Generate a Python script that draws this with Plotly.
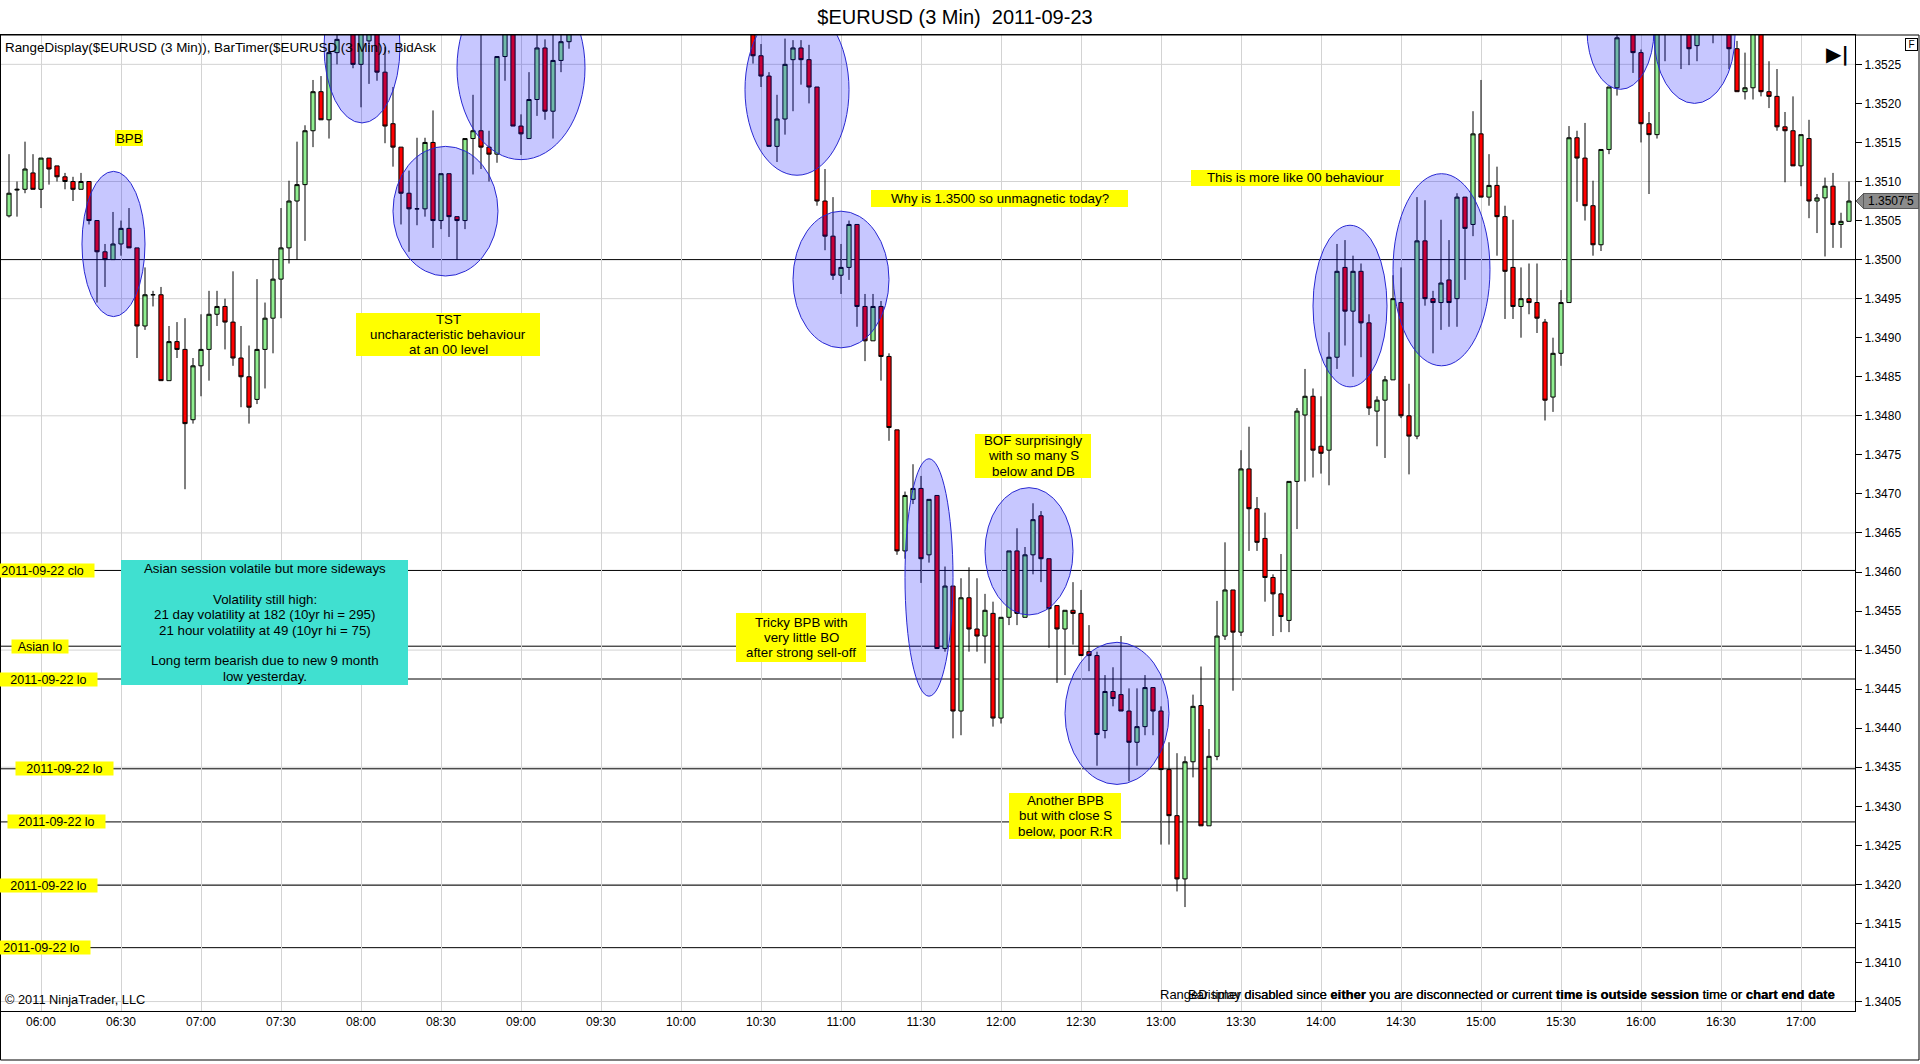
import plotly.graph_objects as go
import pandas as pd

# ---------------- data (3-min bars, $EURUSD, 2011-09-23) ----------------
bar_start = "2011-09-23 05:48"

open_ = [
    1.35056, 1.35089, 1.35090, 1.35111, 1.35090, 1.35130, 1.35120, 1.35106, 1.35100, 1.35090,
    1.35100, 1.35050, 1.35010, 1.35000, 1.35020, 1.35040, 1.35015, 1.34915, 1.34955, 1.34955,
    1.34845, 1.34895, 1.34885, 1.34795, 1.34864, 1.34885, 1.34930, 1.34940, 1.34920, 1.34874,
    1.34850, 1.34821, 1.34885, 1.34925, 1.34975, 1.35015, 1.35075, 1.35096, 1.35165, 1.35215,
    1.35179, 1.35265, 1.35295, 1.35310, 1.35250, 1.35280, 1.35300, 1.35240, 1.35174, 1.35144,
    1.35085, 1.35065, 1.35065, 1.35150, 1.35050, 1.35110, 1.35055, 1.35050, 1.35155, 1.35165,
    1.35144, 1.35135, 1.35260, 1.35300, 1.35171, 1.35155, 1.35205, 1.35271, 1.35190, 1.35255,
    1.35279, 1.35300, 1.35320, 1.35340, 1.35330, 1.35360, 1.35350, 1.35340, 1.35380, 1.35370,
    1.35355, 1.35365, 1.35385, 1.35380, 1.35360, 1.35345, 1.35350, 1.35365, 1.35350, 1.35330,
    1.35340, 1.35325, 1.35315, 1.35305, 1.35261, 1.35235, 1.35145, 1.35180, 1.35256, 1.35271,
    1.35256, 1.35221, 1.35075, 1.35030, 1.34980, 1.34990, 1.35045, 1.34940, 1.34896, 1.34940,
    1.34876, 1.34782, 1.34627, 1.34693, 1.34707, 1.34622, 1.34698, 1.34502, 1.34582, 1.34422,
    1.34567, 1.34527, 1.34518, 1.34547, 1.34413, 1.34542, 1.34627, 1.34542, 1.34622, 1.34672,
    1.34617, 1.34557, 1.34527, 1.34551, 1.34547, 1.34498, 1.34493, 1.34397, 1.34447, 1.34443,
    1.34422, 1.34382, 1.34402, 1.34452, 1.34422, 1.34347, 1.34288, 1.34207, 1.34357, 1.34429,
    1.34275, 1.34364, 1.34518, 1.34577, 1.34523, 1.34732, 1.34681, 1.34643, 1.34593, 1.34572,
    1.34538, 1.34716, 1.34801, 1.34825, 1.34761, 1.34756, 1.34875, 1.34990, 1.34934, 1.34985,
    1.34919, 1.34806, 1.34820, 1.34846, 1.34945, 1.34800, 1.34774, 1.35024, 1.34950, 1.34945,
    1.34974, 1.34950, 1.35080, 1.35045, 1.35161, 1.35080, 1.35095, 1.35055, 1.34990, 1.34940,
    1.34950, 1.34945, 1.34920, 1.34824, 1.34880, 1.34945, 1.35156, 1.35130, 1.35069, 1.35019,
    1.35141, 1.35220, 1.35290, 1.35300, 1.35265, 1.35174, 1.35160, 1.35295, 1.35300, 1.35310,
    1.35300, 1.35274, 1.35300, 1.35300, 1.35295, 1.35300, 1.35270, 1.35215, 1.35220, 1.35290,
    1.35215, 1.35209, 1.35170, 1.35165, 1.35120, 1.35155, 1.35075, 1.35079, 1.35094, 1.35045,
    1.35049,
]
high = [
    1.35135, 1.35100, 1.35151, 1.35135, 1.35130, 1.35130, 1.35120, 1.35111, 1.35106, 1.35111,
    1.35100, 1.35050, 1.35020, 1.35061, 1.35050, 1.35066, 1.35015, 1.34990, 1.34960, 1.34965,
    1.34915, 1.34920, 1.34925, 1.34874, 1.34930, 1.34960, 1.34960, 1.34950, 1.34985, 1.34915,
    1.34890, 1.34975, 1.34945, 1.35000, 1.35066, 1.35101, 1.35151, 1.35172, 1.35230, 1.35235,
    1.35276, 1.35295, 1.35325, 1.35320, 1.35310, 1.35320, 1.35310, 1.35272, 1.35221, 1.35144,
    1.35114, 1.35156, 1.35156, 1.35191, 1.35110, 1.35110, 1.35055, 1.35155, 1.35211, 1.35295,
    1.35165, 1.35260, 1.35310, 1.35310, 1.35186, 1.35240, 1.35295, 1.35282, 1.35292, 1.35295,
    1.35310, 1.35330, 1.35350, 1.35360, 1.35370, 1.35380, 1.35365, 1.35390, 1.35400, 1.35385,
    1.35375, 1.35395, 1.35405, 1.35390, 1.35370, 1.35360, 1.35375, 1.35380, 1.35355, 1.35345,
    1.35350, 1.35335, 1.35325, 1.35310, 1.35276, 1.35240, 1.35211, 1.35283, 1.35281, 1.35281,
    1.35275, 1.35221, 1.35116, 1.35080, 1.35020, 1.35050, 1.35045, 1.34956, 1.34956, 1.34947,
    1.34880, 1.34782, 1.34703, 1.34738, 1.34723, 1.34693, 1.34698, 1.34607, 1.34582, 1.34592,
    1.34606, 1.34592, 1.34572, 1.34562, 1.34542, 1.34627, 1.34656, 1.34632, 1.34688, 1.34678,
    1.34617, 1.34557, 1.34551, 1.34587, 1.34577, 1.34532, 1.34498, 1.34468, 1.34478, 1.34518,
    1.34451, 1.34451, 1.34468, 1.34452, 1.34428, 1.34382, 1.34368, 1.34364, 1.34443, 1.34479,
    1.34399, 1.34563, 1.34638, 1.34577, 1.34756, 1.34786, 1.34696, 1.34676, 1.34597, 1.34623,
    1.34716, 1.34810, 1.34860, 1.34835, 1.34825, 1.34907, 1.35020, 1.35025, 1.35005, 1.34995,
    1.34930, 1.34825, 1.34851, 1.34980, 1.34990, 1.34841, 1.35080, 1.35076, 1.34960, 1.35051,
    1.35025, 1.35085, 1.35080, 1.35190, 1.35230, 1.35135, 1.35119, 1.35069, 1.35051, 1.34990,
    1.34995, 1.34995, 1.34924, 1.34900, 1.34961, 1.35171, 1.35165, 1.35175, 1.35101, 1.35141,
    1.35221, 1.35300, 1.35320, 1.35310, 1.35269, 1.35189, 1.35305, 1.35320, 1.35330, 1.35325,
    1.35310, 1.35315, 1.35330, 1.35320, 1.35320, 1.35310, 1.35280, 1.35265, 1.35300, 1.35300,
    1.35254, 1.35244, 1.35189, 1.35209, 1.35160, 1.35179, 1.35084, 1.35105, 1.35111, 1.35060,
    1.35100,
]
low = [
    1.35054, 1.35055, 1.35085, 1.35090, 1.35066, 1.35096, 1.35100, 1.35090, 1.35075, 1.35090,
    1.35045, 1.34945, 1.34965, 1.35000, 1.35005, 1.35015, 1.34874, 1.34910, 1.34940, 1.34845,
    1.34845, 1.34874, 1.34706, 1.34790, 1.34825, 1.34845, 1.34915, 1.34885, 1.34864, 1.34811,
    1.34790, 1.34815, 1.34835, 1.34880, 1.34925, 1.34995, 1.35000, 1.35024, 1.35144, 1.35179,
    1.35155, 1.35250, 1.35290, 1.35245, 1.35195, 1.35225, 1.35229, 1.35149, 1.35119, 1.35045,
    1.35010, 1.35044, 1.35055, 1.35015, 1.35039, 1.35029, 1.35000, 1.35039, 1.35109, 1.35116,
    1.35100, 1.35124, 1.35229, 1.35171, 1.35134, 1.35155, 1.35184, 1.35179, 1.35155, 1.35240,
    1.35270, 1.35290, 1.35310, 1.35320, 1.35325, 1.35340, 1.35330, 1.35335, 1.35360, 1.35345,
    1.35340, 1.35360, 1.35370, 1.35355, 1.35340, 1.35330, 1.35340, 1.35345, 1.35325, 1.35315,
    1.35320, 1.35305, 1.35295, 1.35251, 1.35221, 1.35145, 1.35125, 1.35160, 1.35190, 1.35224,
    1.35200, 1.35069, 1.35012, 1.34974, 1.34956, 1.34974, 1.34914, 1.34870, 1.34896, 1.34845,
    1.34768, 1.34622, 1.34617, 1.34687, 1.34586, 1.34612, 1.34502, 1.34498, 1.34387, 1.34391,
    1.34498, 1.34498, 1.34483, 1.34402, 1.34406, 1.34532, 1.34532, 1.34542, 1.34597, 1.34587,
    1.34503, 1.34458, 1.34468, 1.34507, 1.34493, 1.34473, 1.34352, 1.34387, 1.34428, 1.34422,
    1.34332, 1.34352, 1.34391, 1.34391, 1.34251, 1.34251, 1.34191, 1.34171, 1.34337, 1.34275,
    1.34275, 1.34359, 1.34513, 1.34448, 1.34518, 1.34627, 1.34627, 1.34562, 1.34518, 1.34523,
    1.34523, 1.34655, 1.34716, 1.34721, 1.34726, 1.34711, 1.34860, 1.34890, 1.34850, 1.34875,
    1.34801, 1.34761, 1.34746, 1.34846, 1.34797, 1.34725, 1.34770, 1.34941, 1.34880, 1.34910,
    1.34914, 1.34914, 1.34974, 1.35030, 1.35080, 1.35069, 1.35005, 1.34924, 1.34924, 1.34900,
    1.34930, 1.34906, 1.34794, 1.34805, 1.34864, 1.34945, 1.35074, 1.35050, 1.35005, 1.35011,
    1.35135, 1.35210, 1.35290, 1.35239, 1.35150, 1.35084, 1.35155, 1.35254, 1.35292, 1.35244,
    1.35249, 1.35254, 1.35292, 1.35277, 1.35290, 1.35244, 1.35215, 1.35205, 1.35205, 1.35209,
    1.35194, 1.35165, 1.35099, 1.35120, 1.35094, 1.35053, 1.35034, 1.35004, 1.35015, 1.35015,
    1.35049,
]
close = [
    1.35085, 1.35090, 1.35116, 1.35090, 1.35130, 1.35116, 1.35106, 1.35100, 1.35090, 1.35100,
    1.35050, 1.35010, 1.35000, 1.35020, 1.35040, 1.35015, 1.34915, 1.34955, 1.34955, 1.34845,
    1.34895, 1.34885, 1.34790, 1.34864, 1.34885, 1.34930, 1.34940, 1.34920, 1.34874, 1.34850,
    1.34811, 1.34885, 1.34925, 1.34975, 1.35015, 1.35075, 1.35096, 1.35165, 1.35215, 1.35179,
    1.35265, 1.35282, 1.35310, 1.35250, 1.35300, 1.35300, 1.35240, 1.35171, 1.35144, 1.35085,
    1.35065, 1.35065, 1.35150, 1.35050, 1.35110, 1.35055, 1.35050, 1.35155, 1.35165, 1.35144,
    1.35135, 1.35260, 1.35300, 1.35171, 1.35161, 1.35205, 1.35271, 1.35190, 1.35255, 1.35279,
    1.35300, 1.35320, 1.35340, 1.35330, 1.35360, 1.35350, 1.35340, 1.35380, 1.35370, 1.35355,
    1.35365, 1.35385, 1.35380, 1.35360, 1.35345, 1.35350, 1.35365, 1.35350, 1.35330, 1.35340,
    1.35325, 1.35315, 1.35305, 1.35261, 1.35235, 1.35145, 1.35180, 1.35250, 1.35271, 1.35256,
    1.35221, 1.35075, 1.35030, 1.34980, 1.34990, 1.35045, 1.34940, 1.34896, 1.34940, 1.34876,
    1.34785, 1.34627, 1.34698, 1.34707, 1.34617, 1.34693, 1.34502, 1.34582, 1.34422, 1.34567,
    1.34527, 1.34518, 1.34551, 1.34413, 1.34542, 1.34627, 1.34547, 1.34622, 1.34667, 1.34617,
    1.34553, 1.34527, 1.34551, 1.34547, 1.34493, 1.34493, 1.34392, 1.34447, 1.34438, 1.34422,
    1.34382, 1.34402, 1.34452, 1.34422, 1.34347, 1.34288, 1.34207, 1.34357, 1.34428, 1.34275,
    1.34364, 1.34518, 1.34577, 1.34523, 1.34732, 1.34681, 1.34638, 1.34593, 1.34572, 1.34543,
    1.34716, 1.34806, 1.34825, 1.34756, 1.34752, 1.34875, 1.34985, 1.34934, 1.34985, 1.34919,
    1.34810, 1.34820, 1.34846, 1.34950, 1.34800, 1.34774, 1.35024, 1.34950, 1.34945, 1.34970,
    1.34945, 1.35080, 1.35040, 1.35161, 1.35080, 1.35095, 1.35055, 1.34985, 1.34940, 1.34950,
    1.34945, 1.34925, 1.34820, 1.34880, 1.34945, 1.35156, 1.35130, 1.35069, 1.35019, 1.35141,
    1.35221, 1.35284, 1.35310, 1.35265, 1.35174, 1.35160, 1.35295, 1.35305, 1.35310, 1.35300,
    1.35270, 1.35300, 1.35310, 1.35295, 1.35305, 1.35270, 1.35215, 1.35220, 1.35290, 1.35215,
    1.35209, 1.35170, 1.35165, 1.35120, 1.35160, 1.35075, 1.35079, 1.35094, 1.35045, 1.35049,
    1.35075,
]
assert len(open_) == len(high) == len(low) == len(close)

# horizontal reference levels and their labels
level_prices = [1.35000, 1.34602, 1.34505, 1.34463, 1.34348, 1.34280, 1.34199, 1.34119]
level_labels = [None, "2011-09-22 clo", "Asian lo", "2011-09-22 lo", "2011-09-22 lo",
                "2011-09-22 lo", "2011-09-22 lo", "2011-09-22 lo"]
# gray horizontal grid levels
grid_levels = [1.3405, 1.3420, 1.3435, 1.3450, 1.3465, 1.3480, 1.3495, 1.3510, 1.3525]

# highlighted areas (start time, end time, top price, bottom price)
ellipse_t0 = ["06:15:22", "07:46:08", "08:12:00", "08:36:00", "10:24:00", "10:42:00", "11:24:00",
              "11:54:00", "12:24:00", "13:57:00", "14:27:00", "15:39:45", "16:04:52"]
ellipse_t1 = ["06:39:00", "08:14:38", "08:51:22", "09:24:00", "11:03:00", "11:18:00", "11:42:00",
              "12:27:00", "13:03:00", "14:24:45", "15:03:22", "16:04:52", "16:35:15"]
ellipse_top = [1.35113, 1.35371, 1.35145, 1.35363, 1.35327, 1.35062, 1.34745,
               1.34708, 1.34510, 1.35044, 1.35110, 1.35370, 1.35374]
ellipse_bot = [1.34927, 1.35175, 1.34979, 1.35128, 1.35108, 1.34887, 1.34441,
               1.34545, 1.34328, 1.34837, 1.34864, 1.35218, 1.35200]

day = "2011-09-23 "
times = pd.date_range(bar_start, periods=len(close), freq="3min")

# ---------------- layout geometry (pixels) ----------------
W, H = 1920, 1064
PL, PR, PT, PB = 1, 1855, 35, 1011
FONT = "Liberation Sans, Arial, sans-serif"


def pxx(px):
    return (px - PL) / (PR - PL)


def pxy(py):
    return (PB - py) / (PB - PT)


fig = go.Figure()
fig.add_trace(go.Candlestick(
    x=times, open=open_, high=high, low=low, close=close,
    increasing=dict(line=dict(color="black", width=1), fillcolor="#90EE90"),
    decreasing=dict(line=dict(color="black", width=1), fillcolor="#FF0000"),
    whiskerwidth=0, hoverinfo="skip", showlegend=False,
))

shapes = []
annotations = []

# gray horizontal gridlines
for g in grid_levels:
    shapes.append(dict(type="line", xref="paper", yref="y", x0=0, x1=1, y0=g, y1=g,
                       line=dict(color="#D3D3D3", width=1), layer="below"))
# black reference lines
for p in level_prices:
    shapes.append(dict(type="line", xref="paper", yref="y", x0=0, x1=1, y0=p, y1=p,
                       line=dict(color="black", width=1), layer="below"))

# ellipses
for t0, t1, yt, yb in zip(ellipse_t0, ellipse_t1, ellipse_top, ellipse_bot):
    shapes.append(dict(type="circle", xref="x", yref="y", x0=day + t0, x1=day + t1,
                       y0=yb, y1=yt, fillcolor="rgba(0,0,255,0.22)",
                       line=dict(color="rgb(40,40,210)", width=1), layer="above"))


def add_box(x0, x1, y0, y1, color, lines, size=13.3, spacing=15.3):
    shapes.append(dict(type="rect", xref="paper", yref="paper",
                       x0=pxx(x0), x1=pxx(x1), y0=pxy(y1), y1=pxy(y0),
                       fillcolor=color, line=dict(width=0), layer="above"))
    cy = (y0 + y1) / 2
    n = len(lines)
    for i, t in enumerate(lines):
        if not t:
            continue
        yc = cy + (i - (n - 1) / 2) * spacing
        annotations.append(dict(text=t, xref="paper", yref="paper", x=pxx((x0 + x1) / 2),
                                y=pxy(yc), showarrow=False, xanchor="center", yanchor="middle",
                                font=dict(size=size, color="black", family=FONT)))


YEL = "#FFFF00"
add_box(115, 143, 130, 146, YEL, ["BPB"])
add_box(356, 540, 313, 356, YEL, ["TST", "uncharacteristic behaviour", "at an 00 level"])
add_box(871, 1128, 190, 207, YEL, ["Why is 1.3500 so unmagnetic today?"])
add_box(1191, 1400, 170, 186, YEL, ["This is more like 00 behaviour"])
add_box(975, 1091, 434, 478, YEL, ["BOF surprisingly", "with so many S", "below and DB"])
add_box(736, 866, 613, 662, YEL, ["Tricky BPB with", "very little BO", "after strong sell-off"])
add_box(1009, 1121, 793, 839, YEL, ["Another BPB", "but with close S", "below, poor R:R"])
add_box(121, 408, 560, 685, "#40E0D0",
        ["Asian session volatile but more sideways", "", "Volatility still high:",
         "21 day volatility at 182 (10yr hi = 295)", "21 hour volatility at 49 (10yr hi = 75)",
         "", "Long term bearish due to new 9 month", "low yesterday."])

# level labels at the left (center px, width px)
label_cx = [None, 42.5, 40, 48.5, 64.5, 56.5, 48.5, 41.5]
label_w = [None, 103, 56, 97, 97, 97, 97, 97]
for p, lab, cx, w in zip(level_prices, level_labels, label_cx, label_w):
    if lab is None:
        continue
    annotations.append(dict(text=lab, xref="paper", yref="y", x=pxx(cx), y=p,
                            showarrow=False, xanchor="center", yanchor="middle",
                            bgcolor=YEL, width=w, height=13, borderpad=0,
                            font=dict(size=12.5, color="black", family=FONT)))

# indicator text top-left
annotations.append(dict(text="RangeDisplay($EURUSD (3 Min)), BarTimer($EURUSD (3 Min)), BidAsk",
                        xref="paper", yref="paper", x=pxx(3), y=pxy(48), showarrow=False,
                        xanchor="left", yanchor="middle", font=dict(size=13.4, color="black")))
# copyright
annotations.append(dict(text="© 2011 NinjaTrader, LLC", xref="paper", yref="paper",
                        x=pxx(3), y=pxy(999), showarrow=False, xanchor="left",
                        yanchor="middle", font=dict(size=12.8, color="black")))
# overlapping disabled messages (right aligned, as in the reference)
msg_tail = (" disabled since <b>either</b> you are disconnected or current "
            "<b>time is outside session</b> time or <b>chart end date</b>")
for head in ["RangeDisplay", "Bar timer"]:
    annotations.append(dict(text=head + msg_tail, xref="paper", yref="paper",
                            x=pxx(1837), y=pxy(994), showarrow=False, xanchor="right",
                            yanchor="middle", font=dict(size=13, color="black")))
# go-to-end icon
annotations.append(dict(text="<b>▶|</b>", xref="paper", yref="paper", x=pxx(1837), y=pxy(54),
                        showarrow=False, xanchor="center", yanchor="middle",
                        font=dict(size=20, color="black", family="DejaVu Sans")))
# F box
annotations.append(dict(text="F", xref="paper", yref="paper", x=pxx(1911), y=pxy(44),
                        showarrow=False, xanchor="center", yanchor="middle",
                        bordercolor="black", borderwidth=1, width=11, height=11, borderpad=0,
                        bgcolor="white", font=dict(size=10, color="black")))
# last price marker
last = close[-1]
s = f"{last:.5f}"
last_txt = s[:-1] + "'" + s[-1]
annotations.append(dict(text=last_txt, xref="paper", yref="y", x=pxx(1863), y=last,
                        showarrow=False, xanchor="left", yanchor="middle",
                        bgcolor="#8C8C8C", bordercolor="#5A5A5A", borderwidth=1,
                        width=54, height=14, borderpad=0,
                        font=dict(size=12, color="black")))
dy = 8 / 78100
shapes.append(dict(type="path", xref="paper", yref="y",
                   path=f"M {pxx(1856)},{last} L {pxx(1864)},{last + dy} L {pxx(1864)},{last - dy} Z",
                   fillcolor="#8C8C8C", line=dict(color="#5A5A5A", width=1), layer="above"))
# outer frame
shapes.append(dict(type="rect", xref="paper", yref="paper", x0=pxx(0.5), x1=pxx(1919),
                   y0=pxy(1060), y1=pxy(PT), line=dict(color="black", width=1), layer="above"))

x_left = pd.Timestamp("2011-09-23 06:00") + pd.Timedelta(minutes=(PL - 41) * 0.375)
x_right = pd.Timestamp("2011-09-23 06:00") + pd.Timedelta(minutes=(PR - 41) * 0.375)
y_low = 1.3500 - (PB - 259.6) / 78100
y_high = 1.3500 + (259.6 - PT) / 78100

fig.update_layout(
    width=W, height=H, autosize=False,
    margin=dict(l=PL, r=W - PR, t=PT, b=H - PB, pad=0),
    paper_bgcolor="white", plot_bgcolor="white",
    showlegend=False, hovermode=False, boxgap=0.25,
    font=dict(family=FONT, size=12, color="black"),
    title=dict(text="$EURUSD (3 Min)  2011-09-23", x=955 / W, xanchor="center",
               y=1 - 17 / H, yanchor="middle", xref="container", yref="container",
               font=dict(size=20, color="black", family=FONT)),
    xaxis=dict(type="date", range=[x_left, x_right], rangeslider=dict(visible=False),
               tickformat="%H:%M", dtick=1800000, tick0="2011-09-23 06:00",
               showgrid=True, gridcolor="#D3D3D3", gridwidth=1,
               showline=True, linecolor="black", linewidth=1, mirror=True,
               ticks="", zeroline=False, tickfont=dict(size=12, color="black")),
    yaxis=dict(side="right", range=[y_low, y_high], dtick=0.0005, tick0=1.3405,
               tickformat=".4f", showgrid=False, zeroline=False,
               showline=True, linecolor="black", linewidth=1, mirror=True,
               ticks="outside", ticklen=6, tickcolor="black",
               tickfont=dict(size=12, color="black")),
    shapes=shapes, annotations=annotations,
)

fig.write_html("out.html", config={"displayModeBar": False},
               post_script="document.body.style.margin='0';document.body.style.overflow='hidden';")
